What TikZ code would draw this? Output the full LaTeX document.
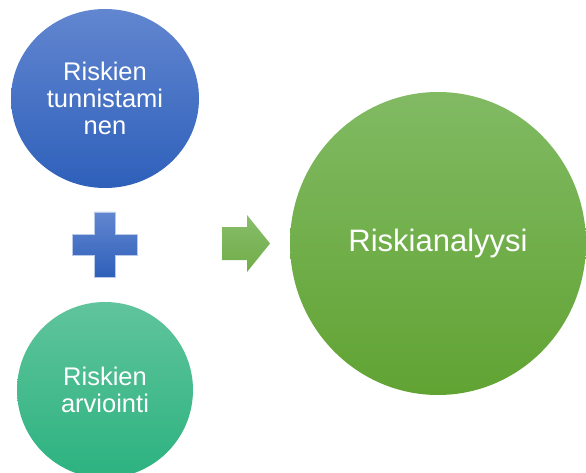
\documentclass[tikz,border=0pt]{standalone}
\usepackage{fontspec}
\setmainfont{Liberation Sans}
\usetikzlibrary{shapes.geometric}
\definecolor{bluetop}{RGB}{98,134,208}
\definecolor{bluebot}{RGB}{46,96,186}
\definecolor{tealtop}{RGB}{96,196,156}
\definecolor{tealbot}{RGB}{44,178,128}
\definecolor{greentop}{RGB}{129,186,99}
\definecolor{greenbot}{RGB}{97,163,51}
\tikzset{
  bubble/.style={ellipse, inner sep=0pt, text=white, align=center,
    font=\fontsize{25.5}{27}\selectfont},
  bigbubble/.style={bubble, font=\fontsize{31}{34}\selectfont},
}

\begin{document}
\begin{tikzpicture}[x=1pt,y=-1pt]
        \useasboundingbox (0,0) rectangle (586,473);
        \clip (0,0) rectangle (586,473);
        \node (tunn) [bubble, minimum width=188pt, minimum height=179pt,
          top color=bluetop, bottom color=bluebot] at (105,98.5) {Riskien\\tunnistami\\nen};
        \node (arvi) [bubble, minimum width=176pt, minimum height=176pt,
          top color=tealtop, bottom color=tealbot] at (105,390) {Riskien\\arviointi};
        \node (anal) [bigbubble, minimum width=296pt, minimum height=303pt,
          top color=greentop, bottom color=greenbot] at (438,243.5) {Riskianalyysi};
        \coordinate (plus) at (104.5,244.5);
        \path[top color=bluetop, bottom color=bluebot, draw=white!55!bluetop, line width=0.8pt]
          (plus) ++(-10.5,-32.5) -- ++(21,0) -- ++(0,22) -- ++(22,0) -- ++(0,21)
          -- ++(-22,0) -- ++(0,22) -- ++(-21,0) -- ++(0,-22) -- ++(-22,0)
          -- ++(0,-21) -- ++(22,0) -- cycle;
        \coordinate (arrow) at (222,243.5);
        \path[top color=greentop!95!white, bottom color=greenbot!90!white]
          (arrow) ++(0,-16.5) -- ++(25,0) -- ++(0,-12) -- ++(23,28.5)
          -- ++(-23,28.5) -- ++(0,-12) -- ++(-25,0) -- cycle;
\end{tikzpicture}
\end{document}
